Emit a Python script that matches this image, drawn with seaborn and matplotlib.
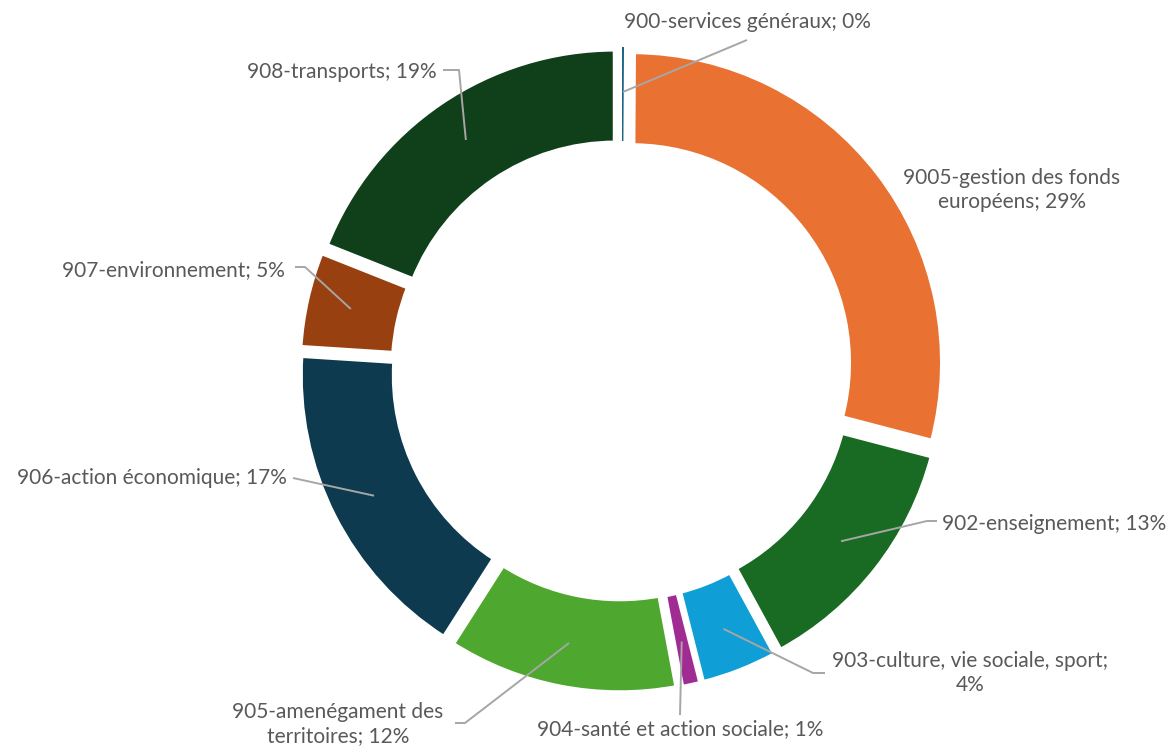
import numpy as np
import matplotlib
matplotlib.use("Agg")
import matplotlib.pyplot as plt
import seaborn as sns

sns.set_theme(style="white")
plt.rcParams['font.family'] = ['Lato', 'DejaVu Sans']

# ---- data ----
categories = ["900-services généraux", "9005-gestion des fonds européens",
              "902-enseignement", "903-culture, vie sociale, sport",
              "904-santé et action sociale", "905-amenégament des territoires",
              "906-action économique", "907-environnement", "908-transports"]
values = [0.1, 29, 13, 4, 1, 12, 17, 5, 19]
label_texts = ["900-services généraux; 0%",
               "9005-gestion des fonds\neuropéens; 29%",
               "902-enseignement; 13%",
               "903-culture, vie sociale, sport;\n4%",
               "904-santé et action sociale; 1%",
               "905-amenégament des\nterritoires; 12%",
               "906-action économique; 17%",
               "907-environnement; 5%",
               "908-transports; 19%"]
colors = ["#156082", "#E97132", "#196B24", "#0F9ED5", "#A02B93",
          "#4EA72E", "#0D3A4F", "#994010", "#10401A"]

W, H = 1176, 746
fig = plt.figure(figsize=(W / 100, H / 100), dpi=100)
ax = fig.add_axes([0, 0, 1, 1])

def P(x, y):
    return (x, H - y)

cx, cy = P(622, 370)
R = 311
expl_px = 12
border_px = 5
wedges, _ = ax.pie(values, colors=colors, startangle=90, counterclock=False,
                   radius=R, center=(cx, cy),
                   explode=[expl_px] * len(values),
                   wedgeprops=dict(width=94, edgecolor="white",
                                   linewidth=border_px * 72 / 100))
wedges[0].set_zorder(3)
wedges[0].set_linewidth(0)

ax.set_xlim(0, W)
ax.set_ylim(0, H)
ax.set_aspect("equal")
ax.axis("off")

# label layout: text position (image px), alignment, leader path (image px) before anchor
layout = [
    dict(xy=(747, 22), ha="center", path=[(747, 40)]),
    dict(xy=(1012, 190), ha="center", path=None),
    dict(xy=(942, 524), ha="left", path=[(937, 521), (927, 521)]),
    dict(xy=(970, 673), ha="center", path=[(825, 673), (813, 673)]),
    dict(xy=(680, 729), ha="center", path=[(680, 715)]),
    dict(xy=(338, 724), ha="center", path=[(455, 723), (465, 723)]),
    dict(xy=(287, 478), ha="right", path=[(293, 478)]),
    dict(xy=(285, 270), ha="right", path=[(295, 267), (305, 267)]),
    dict(xy=(437, 72), ha="right", path=[(443, 70), (459, 70)]),
]

r_lead = 266
line_col = "#A6A6A6"
text_col = "#595959"
for w, lab, lay in zip(wedges, label_texts, layout):
    tx, ty = P(*lay["xy"])
    ax.text(tx, ty, lab, ha=lay["ha"], va="center", fontsize=15,
            color=text_col, linespacing=1.25, zorder=5)
    if lay["path"]:
        theta = np.deg2rad((w.theta1 + w.theta2) / 2)
        wx, wy = w.center
        ax_pt = (wx + r_lead * np.cos(theta), wy + r_lead * np.sin(theta))
        pts = [P(*p) for p in lay["path"]] + [ax_pt]
        xs, ys = zip(*pts)
        ax.plot(xs, ys, color=line_col, lw=1.4, zorder=4, solid_capstyle="butt")

fig.savefig("out.png", dpi=100)
